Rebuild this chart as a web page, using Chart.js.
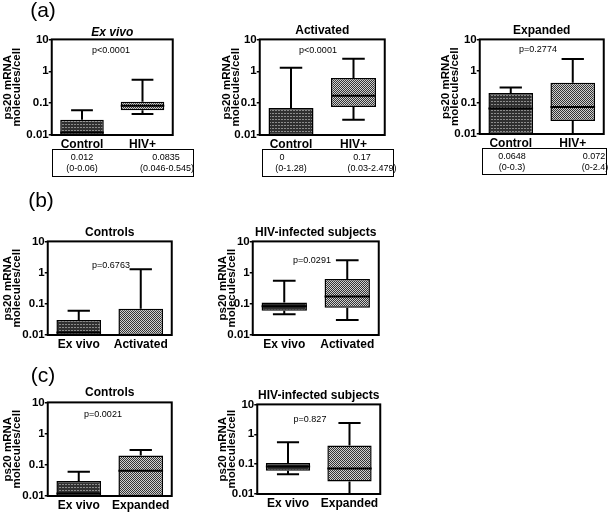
<!DOCTYPE html>
<html>
<head>
<meta charset="utf-8">
<script src="https://cdn.jsdelivr.net/npm/chart.js@4.4.1/dist/chart.umd.min.js"></script>
<style>
  body { margin: 0; background: #fff; font-family: "Liberation Sans", Arial, sans-serif; }
  #fig { position: relative; width: 608px; height: 512px; overflow: hidden; }
  .txt { position: absolute; transform: translate(-50%, -50%); white-space: nowrap; font-size: 9px; color: #000; }
  .letter { position: absolute; transform: translate(-50%, -50%); font-size: 21px; color: #000; }
  .tbl { position: absolute; border: 1.5px solid #000; box-sizing: border-box; }
</style>
</head>
<body>
<div id="fig"></div>
<script>
// categories
const aCats = ['Control', 'HIV+'];
const bCats = ['Ex vivo', 'Activated'];
const cCats = ['Ex vivo', 'Expanded'];

// box summaries: [lower whisker, q1, median, q3, upper whisker]
const ctrlExVivo    = [0, 0, 0.012, 0.03, 0.06];
const hivExVivo     = [0.046, 0.06, 0.0835, 0.11, 0.545];
const ctrlActivated = [0, 0, 0, 0.07, 1.28];
const hivActivated  = [0.03, 0.075, 0.17, 0.62, 2.479];
const ctrlExpanded  = [0, 0, 0.0648, 0.2, 0.3];
const hivExpanded   = [0, 0.026, 0.072, 0.42, 2.4];

const yTicks = [0.01, 0.1, 1, 10];
const yTickLabels = ['0.01', '0.1', '1', '10'];
const yTitle = ['ps20 mRNA', 'molecules/cell'];

const titles = ['Ex vivo', 'Activated', 'Expanded', 'Controls', 'HIV-infected subjects', 'Controls', 'HIV-infected subjects'];
const pValues = ['p<0.0001', 'p<0.0001', 'p=0.2774', 'p=0.6763', 'p=0.0291', 'p=0.0021', 'p=0.827'];
const tableMedians = [['0.012', '0.0835'], ['0', '0.17'], ['0.0648', '0.072']];
const tableRanges = [['(0-0.06)', '(0.046-0.545)'], ['(0-1.28)', '(0.03-2.479)'], ['(0-0.3)', '(0-2.4)']];
const letters = ['(a)', '(b)', '(c)'];

// layout (page pixels): plot rect, y-title offset from axis, title gap, p-value spot
const panels = [
  { x0: 52,  y0: 39,  x1: 173, y1: 135, off: 44, tPad: 0, px: 111, py: 50,  cats: aCats, series: [ctrlExVivo, hivExVivo], italic: true },
  { x0: 260, y0: 39,  x1: 385, y1: 135, off: 33, tPad: 2, px: 318, py: 50,  cats: aCats, series: [ctrlActivated, hivActivated] },
  { x0: 480, y0: 39,  x1: 604, y1: 134, off: 34, tPad: 2, px: 538, py: 49,  cats: aCats, series: [ctrlExpanded, hivExpanded] },
  { x0: 48,  y0: 241, x1: 172, y1: 335, off: 40, tPad: 2, px: 111, py: 265, cats: bCats, series: [ctrlExVivo, ctrlActivated] },
  { x0: 253, y0: 241, x1: 379, y1: 335, off: 30, tPad: 2, px: 312, py: 260, cats: bCats, series: [hivExVivo, hivActivated] },
  { x0: 48,  y0: 402, x1: 172, y1: 496, off: 40, tPad: 3, px: 103, py: 414, cats: cCats, series: [ctrlExVivo, ctrlExpanded] },
  { x0: 257, y0: 404, x1: 380, y1: 494, off: 34.5, tPad: 2, px: 310, py: 419, cats: cCats, series: [hivExVivo, hivExpanded] }
];
const tables = [
  { box: [52, 149, 194, 177],  rows: [157, 168], cols: [[82, 82], [166, 167]] },
  { box: [262, 149, 394, 177], rows: [157, 168], cols: [[282, 291], [362, 372]] },
  { box: [482, 148, 607, 175], rows: [156, 167], cols: [[512, 512], [594, 595]] }
];
const letterPos = [[43, 10], [41, 200], [43, 375]];

const FONT = '"Liberation Sans", Arial, sans-serif';
Chart.defaults.font.family = FONT;
Chart.defaults.color = '#000';

const TITLE_LH = 9.5; // line spacing of the two-line y title
const fig = document.getElementById('fig');

function makePattern(kind) {
  const c = document.createElement('canvas');
  const ctx = c.getContext('2d');
  if (kind === 'dense') {
    c.width = 3; c.height = 3;
    ctx.fillStyle = '#303030'; ctx.fillRect(0, 0, 3, 3);
    ctx.fillStyle = '#8c8c8c'; ctx.fillRect(0, 0, 2, 1);
  } else {
    c.width = 2; c.height = 2;
    ctx.fillStyle = '#333'; ctx.fillRect(0, 0, 2, 2);
    ctx.fillStyle = '#d0d0d0'; ctx.fillRect(0, 0, 1, 1); ctx.fillRect(1, 1, 1, 1);
  }
  return ctx.createPattern(c, 'repeat');
}
const fills = [makePattern('dense'), makePattern('checker')];

// whiskers, medians and the frame, drawn through the chart's scales
const boxWhisker = {
  id: 'boxWhisker',
  afterDatasetsDraw(chart, args, opts) {
    const { ctx, chartArea } = chart;
    const y = chart.scales.y;
    const yp = v => y.getPixelForValue(Math.max(v, y.min));
    const meta = chart.getDatasetMeta(0);
    ctx.save();
    ctx.strokeStyle = '#000';
    ctx.lineWidth = 2;
    meta.data.forEach((bar, i) => {
      const [lo, q1, med, q3, hi] = opts.series[i];
      const { x, width } = bar.getProps(['x', 'width'], true);
      const cap = width / 4;
      ctx.beginPath();
      ctx.moveTo(x, yp(q3)); ctx.lineTo(x, yp(hi));
      ctx.moveTo(x - cap, yp(hi)); ctx.lineTo(x + cap, yp(hi));
      if (q1 > y.min) {
        ctx.moveTo(x, yp(q1)); ctx.lineTo(x, yp(lo));
        if (lo > y.min) { ctx.moveTo(x - cap, yp(lo)); ctx.lineTo(x + cap, yp(lo)); }
      }
      ctx.moveTo(x - width / 2, yp(med)); ctx.lineTo(x + width / 2, yp(med));
      ctx.stroke();
    });
    ctx.strokeRect(chartArea.left, chartArea.top, chartArea.right - chartArea.left, chartArea.bottom - chartArea.top);
    ctx.restore();
  }
};

panels.forEach((p, i) => {
  const L = p.off + TITLE_LH / 2 + 1;
  const titleH = 12 * 1.2 + p.tPad;
  const w = Math.round(L + (p.x1 - p.x0) + 3);
  const h = Math.round(titleH + (p.y1 - p.y0) + 20);
  const cv = document.createElement('canvas');
  cv.width = w; cv.height = h;
  cv.style.position = 'absolute';
  cv.style.left = (p.x0 - L) + 'px';
  cv.style.top = (p.y0 - titleH) + 'px';
  cv.style.width = w + 'px'; cv.style.height = h + 'px';
  fig.appendChild(cv);

  new Chart(cv, {
    type: 'bar',
    data: {
      labels: p.cats,
      datasets: [{
        data: p.series.map(s => [Math.max(s[1], yTicks[0]), s[3]]),
        backgroundColor: fills,
        borderColor: '#000',
        borderWidth: 1.5,
        borderSkipped: false,
        barPercentage: 0.72,
        categoryPercentage: 1
      }]
    },
    options: {
      responsive: false,
      animation: false,
      devicePixelRatio: 1,
      layout: { padding: { top: 0, right: w - L - (p.x1 - p.x0), bottom: 0, left: 0 } },
      plugins: {
        legend: { display: false },
        tooltip: { enabled: false },
        title: {
          display: true, text: titles[i], fullSize: false, color: '#000',
          font: { size: 12, weight: 'bold', style: p.italic ? 'italic' : 'normal', lineHeight: 1.2 },
          padding: { top: 0, bottom: p.tPad }
        },
        boxWhisker: { series: p.series }
      },
      scales: {
        x: {
          grid: { display: false, drawTicks: false },
          border: { display: false },
          ticks: { color: '#000', padding: 2, autoSkip: false, maxRotation: 0, minRotation: 0, font: { size: 12, weight: 'bold' } },
          afterFit(s) { s.height = 20; }
        },
        y: {
          type: 'logarithmic',
          min: yTicks[0], max: yTicks[yTicks.length - 1],
          afterBuildTicks(s) { s.ticks = yTicks.map(v => ({ value: v })); },
          grid: { display: true, drawOnChartArea: false, drawTicks: true, tickLength: 3, color: '#000', lineWidth: 1.5 },
          border: { display: false },
          ticks: {
            color: '#000', padding: 0, font: { size: 11.5, weight: 'bold' },
            callback: v => yTickLabels[yTicks.indexOf(v)]
          },
          title: {
            display: true, text: yTitle, color: '#000',
            font: { size: 11.5, weight: 'bold', lineHeight: TITLE_LH / 11.5 },
            padding: { top: 1, bottom: 0 }
          },
          afterFit(s) { s.width = L; }
        }
      }
    },
    plugins: [boxWhisker]
  });

  const pv = document.createElement('div');
  pv.className = 'txt';
  pv.style.left = p.px + 'px'; pv.style.top = p.py + 'px';
  pv.textContent = pValues[i];
  fig.appendChild(pv);
});

tables.forEach((t, i) => {
  const b = document.createElement('div');
  b.className = 'tbl';
  b.style.left = t.box[0] + 'px'; b.style.top = t.box[1] + 'px';
  b.style.width = (t.box[2] - t.box[0]) + 'px'; b.style.height = (t.box[3] - t.box[1]) + 'px';
  fig.appendChild(b);
  [tableMedians[i], tableRanges[i]].forEach((row, r) => {
    row.forEach((s, c) => {
      const d = document.createElement('div');
      d.className = 'txt';
      d.style.left = t.cols[c][r] + 'px'; d.style.top = t.rows[r] + 'px';
      d.textContent = s;
      fig.appendChild(d);
    });
  });
});

letters.forEach((s, i) => {
  const d = document.createElement('div');
  d.className = 'letter';
  d.style.left = letterPos[i][0] + 'px'; d.style.top = letterPos[i][1] + 'px';
  d.textContent = s;
  fig.appendChild(d);
});
</script>
</body>
</html>
